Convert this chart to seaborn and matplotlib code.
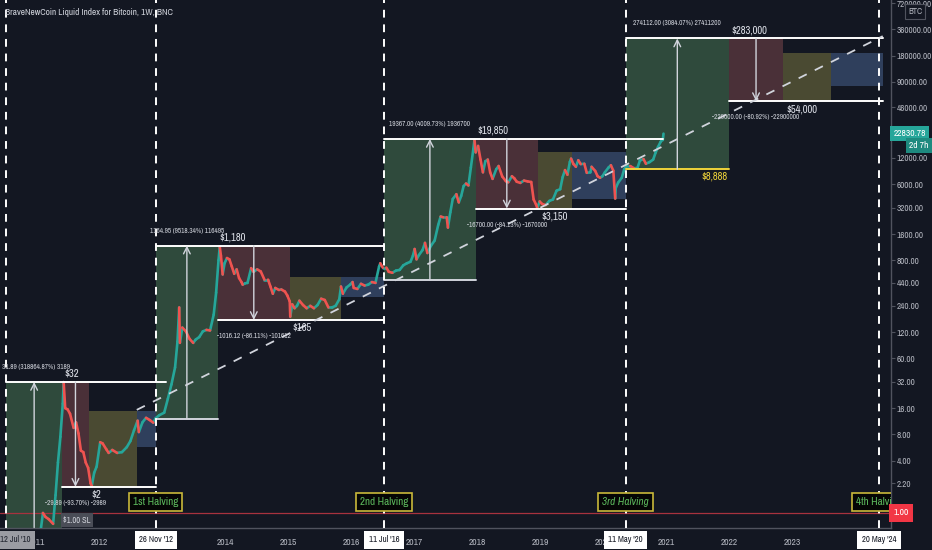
import numpy as np
import pandas as pd
import matplotlib
matplotlib.use("Agg")
import matplotlib.pyplot as plt
import matplotlib.dates as mdates
from matplotlib import font_manager
from matplotlib.ticker import NullLocator, FixedLocator, FixedFormatter
import seaborn as sns

# --- weekly-ish closes of the BNC bitcoin index ---
price_dates = [
    '2010-07-18', '2010-08-15', '2010-09-15', '2010-10-15', '2010-11-07', '2010-11-21', '2010-12-15',
    '2011-01-15', '2011-02-10', '2011-02-25', '2011-03-15', '2011-04-10', '2011-04-24', '2011-05-08',
    '2011-05-22', '2011-06-05', '2011-06-10', '2011-06-19', '2011-07-03', '2011-07-17', '2011-08-07',
    '2011-08-21', '2011-09-04', '2011-09-18', '2011-10-02', '2011-10-16', '2011-10-30', '2011-11-13',
    '2011-11-20', '2011-12-04', '2011-12-18', '2012-01-08', '2012-01-22', '2012-02-12', '2012-02-26',
    '2012-03-18', '2012-04-15', '2012-05-13', '2012-06-10', '2012-07-01', '2012-07-22', '2012-08-12',
    '2012-08-19', '2012-09-09', '2012-09-30', '2012-10-21', '2012-11-11', '2012-11-25', '2012-12-16',
    '2013-01-13', '2013-02-03', '2013-02-24', '2013-03-17', '2013-03-31', '2013-04-10', '2013-04-14',
    '2013-04-28', '2013-05-19', '2013-06-09', '2013-06-30', '2013-07-14', '2013-08-04', '2013-08-25',
    '2013-09-15', '2013-10-06', '2013-10-27', '2013-11-10', '2013-11-24', '2013-12-01', '2013-12-08',
    '2013-12-18', '2013-12-29', '2014-01-12', '2014-01-26', '2014-02-09', '2014-02-23', '2014-03-09',
    '2014-03-23', '2014-04-06', '2014-04-13', '2014-04-27', '2014-05-11', '2014-06-01', '2014-06-15',
    '2014-07-06', '2014-07-27', '2014-08-17', '2014-09-07', '2014-09-21', '2014-10-05', '2014-10-19',
    '2014-11-09', '2014-11-23', '2014-12-14', '2014-12-28', '2015-01-11', '2015-01-14', '2015-01-25',
    '2015-02-08', '2015-02-22', '2015-03-08', '2015-03-29', '2015-04-19', '2015-05-10', '2015-05-31',
    '2015-06-21', '2015-07-12', '2015-08-02', '2015-08-23', '2015-09-13', '2015-10-04', '2015-10-25',
    '2015-11-04', '2015-11-15', '2015-12-06', '2015-12-27', '2016-01-10', '2016-01-17', '2016-02-07',
    '2016-02-28', '2016-03-20', '2016-04-10', '2016-05-01', '2016-05-22', '2016-06-12', '2016-06-19',
    '2016-07-03', '2016-07-24', '2016-08-07', '2016-08-28', '2016-09-18', '2016-10-09', '2016-10-30',
    '2016-11-20', '2016-12-11', '2016-12-25', '2017-01-04', '2017-01-15', '2017-01-29', '2017-02-19',
    '2017-03-05', '2017-03-19', '2017-04-09', '2017-04-30', '2017-05-21', '2017-06-04', '2017-06-18',
    '2017-07-09', '2017-07-16', '2017-07-30', '2017-08-13', '2017-08-27', '2017-09-03', '2017-09-17',
    '2017-10-01', '2017-10-15', '2017-10-29', '2017-11-12', '2017-11-26', '2017-12-10', '2017-12-17',
    '2017-12-24', '2018-01-07', '2018-01-21', '2018-02-04', '2018-02-18', '2018-03-04', '2018-03-18',
    '2018-04-01', '2018-04-22', '2018-05-06', '2018-05-27', '2018-06-17', '2018-07-01', '2018-07-22',
    '2018-08-05', '2018-08-19', '2018-09-09', '2018-09-30', '2018-10-21', '2018-11-11', '2018-11-25',
    '2018-12-09', '2018-12-16', '2018-12-30', '2019-01-13', '2019-02-03', '2019-02-24', '2019-03-17',
    '2019-04-07', '2019-04-28', '2019-05-12', '2019-05-26', '2019-06-09', '2019-06-23', '2019-06-30',
    '2019-07-14', '2019-07-28', '2019-08-11', '2019-08-25', '2019-09-15', '2019-09-29', '2019-10-20',
    '2019-10-27', '2019-11-17', '2019-12-01', '2019-12-15', '2019-12-29', '2020-01-12', '2020-02-02',
    '2020-02-16', '2020-03-01', '2020-03-12', '2020-03-15', '2020-03-29', '2020-04-19', '2020-05-03',
    '2020-05-17', '2020-06-07', '2020-06-28', '2020-07-19', '2020-08-02', '2020-08-23', '2020-09-06',
    '2020-09-27', '2020-10-18', '2020-11-01', '2020-11-15', '2020-11-29', '2020-12-06', '2020-12-13',
    '2020-12-17',
]
price_close = [
    0.07, 0.07, 0.06, 0.10, 0.35, 0.28, 0.25,
    0.40, 1.00, 0.90, 0.85, 0.75, 1.60, 3.80,
    7.5, 18.0, 31.9, 16.0, 15.5, 13.8, 9.5,
    11.0, 8.2, 5.2, 5.0, 3.8, 3.3, 2.2,
    2.05, 2.9, 3.4, 6.5, 6.3, 5.4, 4.9,
    5.3, 4.9, 5.0, 5.7, 6.7, 8.9, 11.5,
    8.5, 11.0, 12.4, 11.7, 10.9, 12.3, 13.3,
    14.2, 20.4, 30, 47, 93, 230, 90,
    135, 122, 100, 90, 98, 105, 122,
    127, 125, 190, 340, 800, 1150, 900,
    550, 740, 850, 820, 680, 560, 630,
    500, 450, 420, 435, 440, 650, 590,
    630, 595, 480, 480, 400, 330, 385,
    365, 370, 350, 315, 270, 180, 250,
    225, 240, 275, 245, 225, 240, 225,
    245, 290, 280, 230, 230, 240, 285,
    400, 330, 390, 420, 450, 385, 375,
    430, 410, 420, 450, 440, 680, 740,
    660, 660, 590, 575, 610, 620, 700,
    740, 770, 900, 1080, 820, 920, 1050,
    1270, 970, 1180, 1350, 2050, 2550, 2500,
    2500, 1900, 2850, 4050, 4400, 4600, 3700,
    4400, 5700, 6100, 5800, 9300, 15000, 19400,
    13900, 16500, 11500, 8200, 11000, 11500, 8200,
    6900, 8900, 9700, 7350, 6500, 6300, 7400,
    7000, 6400, 6200, 6600, 6450, 6350, 4000,
    3500, 3200, 3800, 3550, 3450, 3850, 4000,
    5050, 5250, 7200, 8700, 7700, 10800, 11800,
    10200, 9500, 11300, 10200, 10300, 8100, 8200,
    9500, 8500, 7400, 7100, 7400, 8200, 9300,
    9900, 8550, 4100, 5400, 6250, 7100, 8900,
    9700, 9700, 9150, 9200, 11200, 11650, 10300,
    10750, 11500, 13800, 16000, 18200, 19150, 19300,
    22830.78,
]

# --- halving cycles: boxes (green run-up, red drop, yellow accumulation, blue pre-halving) ---
cycle_start = ['2010-07-12', '2012-11-26', '2016-07-11', '2020-05-11']
peak_date = ['2011-06-01', '2013-11-20', '2017-12-24', '2022-01-01']
bottom_date = ['2011-11-03', '2015-01-11', '2018-12-20', '2022-11-10']
accum_end = ['2012-08-07', '2015-11-02', '2019-07-05', '2023-08-15']
cycle_end = ['2012-11-26', '2016-07-11', '2020-05-11', '2024-06-10']
high_line_end = ['2013-01-25', '2016-07-11', '2020-12-15', '2024-06-10']
low_line_end = ['2012-11-26', '2016-07-11', '2020-05-11', '2024-06-10']

cycle_high = [32, 1180, 19850, 283000]
cycle_low = [2, 165, 3150, 54000]
run_low = [0.5, 12, 475, 8888]
accum_high = [15, 515, 14000, 195000]
pre_low = [5.7, 303, 4000, 80000]

high_text = ['$32', '$1,180', '$19,850', '$283,000']
low_text = ['$2', '$165', '$3,150', '$54,000']
gain_text = ['31.89 (318864.87%) 3189', '1164.95 (9518.34%) 116495',
             '19367.00 (4009.73%) 1936700', '274112.00 (3084.07%) 27411200']
drop_text = ['-29.89 (-93.70%) -2989', '-1016.12 (-86.11%) -101612',
             '-16700.00 (-84.13%) -1670000', '-229000.00 (-80.92%) -22900000']

halving_dates = ['2012-11-26', '2016-07-11', '2020-05-11', '2024-05-20']
halving_names = ['1st Halving', '2nd Halving', '3rd Halving', '4th Halving']
halving_ticks = ["26 Nov '12", "11 Jul '16", "11 May '20", "20 May '24"]

trend_dates = ['2012-08-07', '2024-06-10']
trend_prices = [15.3, 301000]

years = list(range(2011, 2024))
right_ticks = [1.2, 2.2, 4, 8, 16, 32, 60, 120, 240, 440, 800, 1600, 3200, 6000,
               12000, 46000, 90000, 180000, 360000, 720000]
last_price = 22830.78

BG = '#131722'
TXT = '#b2b5be'
sns.set_theme(style='dark', rc={'axes.facecolor': BG, 'figure.facecolor': BG,
                                'axes.grid': False, 'axes.edgecolor': '#50535e'})

# TradingView uses a narrow face; take a condensed one if the box has it
fonts = font_manager.fontManager.ttflist
narrow = [f.name for f in fonts if 'Narrow' in f.name or 'Condensed' in f.name]
scale = 1.0
if narrow:
    plt.rcParams['font.family'] = [narrow[0], 'DejaVu Sans']
elif [f for f in fonts if f.name == 'DejaVu Sans' and f.stretch == 'condensed']:
    plt.rcParams['font.family'] = ['DejaVu Sans']
    plt.rcParams['font.stretch'] = 'condensed'
    scale = 0.95
else:
    plt.rcParams['font.family'] = ['Roboto', 'DejaVu Sans']
    scale = 0.88

fig = plt.figure(figsize=(9.32, 5.5), dpi=100)
ax = fig.add_axes([0, 22 / 550, 891 / 932, 528 / 550])
ax.set_yscale('log')
ax.set_ylim(0.672, 783600)
ax.set_xlim(pd.Timestamp('2010-06-06'), pd.Timestamp('2024-07-28'))

D = lambda s: pd.Timestamp(s)

# boxes
for i in range(4):
    ax.fill_between([D(cycle_start[i]), D(peak_date[i])], run_low[i], cycle_high[i],
                    color='#2f4a3c', lw=0, zorder=1)
    ax.fill_between([D(peak_date[i]), D(bottom_date[i])], cycle_low[i], cycle_high[i],
                    color='#4a3038', lw=0, zorder=1)
    ax.fill_between([D(bottom_date[i]), D(accum_end[i])], cycle_low[i], accum_high[i],
                    color='#4a4a32', lw=0, zorder=1)
    ax.fill_between([D(accum_end[i]), D(cycle_end[i])], pre_low[i], accum_high[i],
                    color='#2f3f5c', lw=0, zorder=1)
    # high / low lines
    ax.plot([D(cycle_start[i]), D(high_line_end[i])], [cycle_high[i]] * 2, color='white', lw=1.4, zorder=4)
    ax.plot([D(peak_date[i]), D(low_line_end[i])], [cycle_low[i]] * 2, color='white', lw=1.4, zorder=4)
    low_col = '#f0d43a' if i == 3 else '#d1d4dc'
    ax.plot([D(cycle_start[i]), D(peak_date[i])], [run_low[i]] * 2, color=low_col, lw=1.4, zorder=4)

    # arrows
    up_x = D(cycle_start[i]) + (D(peak_date[i]) - D(cycle_start[i])) / 2
    dn_x = D(peak_date[i]) + (D(bottom_date[i]) - D(peak_date[i])) / 2
    ax.annotate('', xy=(up_x, cycle_high[i]), xytext=(up_x, max(run_low[i], 0.68)),
                arrowprops=dict(arrowstyle='->', color='#d1d4dc', lw=1, shrinkA=0, shrinkB=0), zorder=5)
    ax.annotate('', xy=(dn_x, cycle_low[i]), xytext=(dn_x, cycle_high[i]),
                arrowprops=dict(arrowstyle='->', color='#d1d4dc', lw=1, shrinkA=0, shrinkB=0), zorder=5)

    if i == 0:
        ax.annotate(gain_text[i], xy=(D(cycle_start[i]), cycle_high[i]), xytext=(-4, 15),
                    textcoords='offset pixels', ha='left', va='center', fontsize=5.2 * scale,
                    color='#d1d4dc', zorder=6)
    else:
        ax.annotate(gain_text[i], xy=(up_x, cycle_high[i]), xytext=(0, 15), textcoords='offset pixels',
                    ha='center', va='center', fontsize=5.2 * scale, color='#d1d4dc', zorder=6)
    ax.annotate(drop_text[i], xy=(dn_x, cycle_low[i]), xytext=(0, -16), textcoords='offset pixels',
                ha='center', va='center', fontsize=5.2 * scale, color='#d1d4dc', zorder=6)
    ax.annotate(high_text[i], xy=(D(peak_date[i]), cycle_high[i]), xytext=(2, 8), textcoords='offset pixels',
                ha='left', va='center', fontsize=7.6 * scale, color='#e0e3eb', zorder=6)
    ax.annotate(low_text[i], xy=(D(bottom_date[i]), cycle_low[i]), xytext=(3, -8), textcoords='offset pixels',
                ha='left', va='center', fontsize=7.6 * scale, color='#e0e3eb', zorder=6)

ax.annotate('$8,888', xy=(D(peak_date[3]), run_low[3]), xytext=(-1, -7), textcoords='offset pixels',
            ha='right', va='center', fontsize=7.6 * scale, color='#f0d43a', zorder=6)
ax.annotate('$1.00 SL', xy=(D(peak_date[0]), 1.0), xytext=(1, -3), textcoords='offset pixels',
            ha='left', va='top', fontsize=6 * scale, color='#d1d4dc', zorder=6,
            bbox=dict(boxstyle='square,pad=0.3', fc='#4a4d57', ec='none'))

# price line, coloured by direction
px = pd.DataFrame({'date': pd.to_datetime(price_dates), 'close': price_close})
n = len(px)
direction = np.where(np.diff(px['close'].values) >= 0, 'up', 'down')
seg = pd.concat([px.iloc[:-1].assign(seg=np.arange(n - 1), dir=direction),
                 px.iloc[1:].assign(seg=np.arange(n - 1), dir=direction)])
sns.lineplot(data=seg, x='date', y='close', units='seg', hue='dir', estimator=None, sort=False,
             palette={'up': '#26a69a', 'down': '#ef5350'}, lw=1.9, legend=False, ax=ax, zorder=3)

# trend line
sns.lineplot(x=pd.to_datetime(trend_dates), y=trend_prices, ax=ax, color='#d1d4dc', lw=1.3,
             dashes=False, zorder=4).lines[-1].set_dashes((5, 5))

# 1.00 stop line
ax.axhline(1.0, color='#a8323e', lw=0.9, zorder=2)

# halving vertical lines
for d in ['2010-07-12'] + halving_dates:
    ax.axvline(D(d), color='white', lw=1.4, ls=(0, (4, 3.5)), zorder=5)

xt = ax.get_xaxis_transform()
for i, d in enumerate(halving_dates):
    ax.text(mdates.date2num(D(d)), 0.049, halving_names[i], transform=xt, ha='center', va='center',
            fontsize=8 * scale, color='#5cb85c', style='italic' if i == 2 else 'normal', zorder=8,
            clip_on=True, bbox=dict(boxstyle='square,pad=0.35', fc='#050605', ec='#c9b83a', lw=1.2))
    ax.text(mdates.date2num(D(d)), -0.0227, halving_ticks[i], transform=xt, ha='center', va='center',
            fontsize=6.3 * scale, color='#131722', zorder=9, clip_on=False,
            bbox=dict(boxstyle='square,pad=0.5', fc='white', ec='none'))
ax.text(0.0, -0.0227, "12 Jul '10", transform=ax.transAxes, ha='left', va='center', fontsize=6.3 * scale,
        color='#1e222d', zorder=9, clip_on=False,
        bbox=dict(boxstyle='square,pad=0.5', fc='#9a9ca3', ec='none'))

# axes styling
ax.set_xticks([pd.Timestamp(f'{y}-01-01') for y in years])
ax.set_xticklabels([str(y) for y in years])
ax.xaxis.set_minor_locator(NullLocator())
ax.yaxis.tick_right()
ax.yaxis.set_major_locator(FixedLocator(right_ticks))
ax.yaxis.set_major_formatter(FixedFormatter([f'{v:.2f}' for v in right_ticks]))
ax.yaxis.set_minor_locator(NullLocator())
ax.tick_params(axis='x', colors=TXT, labelsize=6.8 * scale, length=3, width=0.8, pad=4, color='#50535e')
ax.tick_params(axis='y', colors=TXT, labelsize=6.6 * scale, length=3, width=0.8, pad=1.2, color='#50535e')
ax.set_xlabel('')
ax.set_ylabel('')
for s in ['left', 'top']:
    ax.spines[s].set_visible(False)
for s in ['right', 'bottom']:
    ax.spines[s].set_color('#50535e')
    ax.spines[s].set_linewidth(1)

yt = ax.get_yaxis_transform()
ax.text(1.003, last_price, f'{last_price:.2f}', transform=yt, ha='left', va='center', fontsize=6.8 * scale,
        color='white', clip_on=False, zorder=9, bbox=dict(boxstyle='square,pad=0.35', fc='#26a69a', ec='none'))
ax.annotate('2d 7h', xy=(1.0, last_price), xycoords=yt, xytext=(18, -12), textcoords='offset pixels',
            ha='left', va='center', fontsize=6.8 * scale, color='white', zorder=9, annotation_clip=False,
            bbox=dict(boxstyle='square,pad=0.35', fc='#1e8a7f', ec='none'))
ax.text(1.003, 1.0, '1.00', transform=yt, ha='left', va='center', fontsize=6.8 * scale, color='white',
        clip_on=False, zorder=9, bbox=dict(boxstyle='square,pad=0.45', fc='#f23645', ec='none'))
ax.text(1.027, 0.978, 'BTC', transform=ax.transAxes, ha='center', va='center', fontsize=6.3 * scale, color=TXT,
        clip_on=False, zorder=9, bbox=dict(boxstyle='square,pad=0.3', fc=BG, ec='#50535e', lw=0.8))

ax.text(0.006, 0.977, 'BraveNewCoin Liquid Index for Bitcoin, 1W, BNC', transform=ax.transAxes,
        ha='left', va='center', fontsize=6.7 * scale, color='#d1d4dc', zorder=9)

fig.savefig('out.png', dpi=100, facecolor=BG)
